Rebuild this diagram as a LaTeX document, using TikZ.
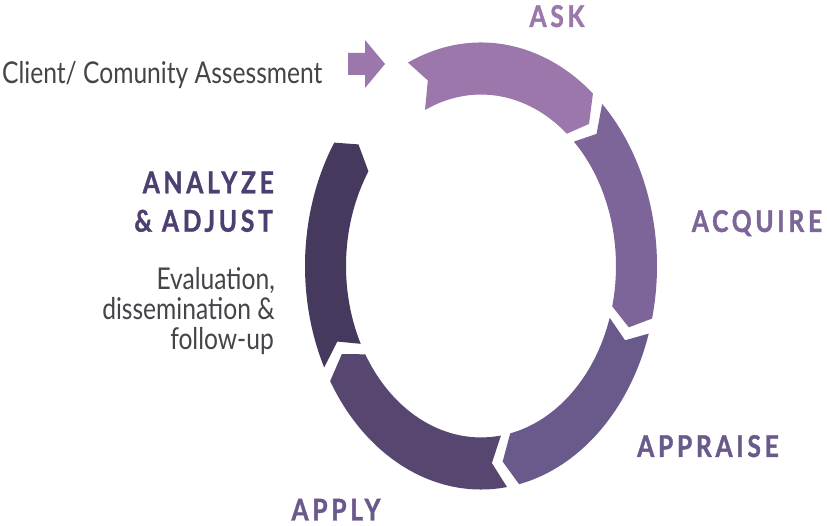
\documentclass[tikz,border=0pt]{standalone}
\usepackage{fontspec}
\setmainfont{Lato}[FakeStretch=0.82]
\newfontfamily\labfont{Lato}[FakeStretch=0.82, LetterSpace=12.5, BoldFeatures={FakeBold=1.2}]
\definecolor{cAsk}{HTML}{9B77AB}
\definecolor{cAcq}{HTML}{7E6599}
\definecolor{cApr}{HTML}{6A5A8C}
\definecolor{cApl}{HTML}{57466F}
\definecolor{cAna}{HTML}{453A5E}
\definecolor{tApr}{HTML}{6A5A8C}
\definecolor{tAna}{HTML}{4D4070}
\definecolor{bodytxt}{HTML}{444449}
\newcommand\rO{176}
\newcommand\rI{135}
\newcommand\rM{155.5}
\newcommand\dd{4.5}
\newcommand\ringseg[3]{%
  \fill[#1] (#2:\rO) arc[start angle=#2, end angle=#3, radius=\rO]
    -- ({#3-\dd}:\rM) -- (#3:\rI)
    arc[start angle=#3, end angle=#2, radius=\rI]
    -- ({#2-\dd}:\rM) -- cycle;}
\tikzset{
  lab/.style={inner sep=0pt, font=\labfont\bfseries\fontsize{30}{30}\selectfont},
  body/.style={inner sep=0pt, text=bodytxt, font=\fontsize{30}{30}\selectfont},
}
\begin{document}
\begin{tikzpicture}[x=1pt,y=1pt]
\useasboundingbox (0,0) rectangle (827,526);
\fill[white] (0,0) rectangle (827,526);
\begin{scope}[shift={(481,260)}, x=1pt, y=1.27pt]
  \ringseg{cAsk}{114.5}{50.5}
  \ringseg{cAcq}{46.5}{-13.6}
  \ringseg{cApr}{-17.6}{-77.5}
  \ringseg{cApl}{-81.5}{-149}
  \ringseg{cAna}{-153}{-213.5}
\end{scope}
% entry arrow
\coordinate (e1) at (348,473);
\coordinate (e2) at (365,473);
\coordinate (e3) at (365,486);
\coordinate (etip) at (385,462);
\coordinate (e4) at (365,438);
\coordinate (e5) at (365,451);
\coordinate (e6) at (348,451);
\fill[cAsk] (e1) -- (e2) -- (e3) -- (etip) -- (e4) -- (e5) -- (e6) -- cycle;
\node[body, anchor=base west] (client) at (2,442.7) {Client/ Comunity Assessment};
\node[lab, text=cAsk, anchor=base] (ask) at (557,499) {ASK};
\node[lab, text=cAcq, anchor=base] (acquire) at (757,294) {ACQUIRE};
\node[lab, text=tApr, anchor=base] (appraise) at (708,69) {APPRAISE};
\node[lab, text=tApr, anchor=base] (apply) at (336,5.5) {APPLY};
\node[lab, text=tAna, anchor=base east] (analyze) at (274,332.7) {ANALYZE};
\node[lab, text=tAna, anchor=base east] (adjust) at (273,294.3) {\&~ADJUST};
\node[body, anchor=base east] (eval) at (275,236) {Evaluation,};
\node[body, anchor=base east] (diss) at (275,206) {dissemination \&};
\node[body, anchor=base east] (follow) at (274,176) {follow-up};
\end{tikzpicture}
\end{document}
